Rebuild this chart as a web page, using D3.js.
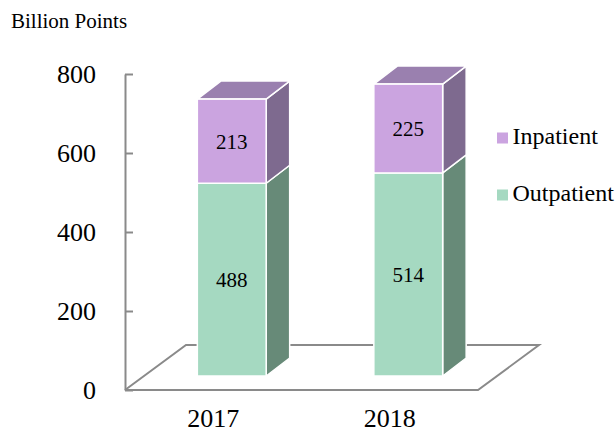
<!DOCTYPE html>
<html>
<head>
<meta charset="utf-8">
<script src="https://cdn.jsdelivr.net/npm/d3@7"></script>
<style>
  html, body { margin: 0; padding: 0; background: #fff; }
  svg { display: block; font-family: "Liberation Serif", "Times New Roman", serif; }
</style>
</head>
<body>
<svg id="chart" width="615" height="432"></svg>
<script>
// Chart data
const years = ["2017", "2018"];
const outpatient = [488, 514];
const inpatient = [213, 225];
const seriesNames = ["Inpatient", "Outpatient"];
const yTicks = [0, 200, 400, 600, 800];

// Colours for the three visible faces of each box
const faceColors = {
  Outpatient: { front: "#a5d9c1", side: "#678a78", top: "#7fa893" },
  Inpatient:  { front: "#cba4e0", side: "#7e6a8f", top: "#9a80af" }
};
const gridColor = "#8a8a8a";

const svg = d3.select("#chart");

// Scales
const y = d3.scaleLinear().domain([0, 800]).range([390, 74]);
const x = d3.scaleBand().domain(years).range([125, 478]).padding(0);

// Oblique projection: full floor depth and the box's own depth
const floorDepth = { dx: 61, dy: -45 };
const barOffset = { dx: 18.5, dy: -14 };   // where the box front sits inside the floor
const barDepth = { dx: 23.5, dy: -18 };
const barWidth = x.bandwidth() * 0.39;

// Floor parallelogram
const x0 = x.range()[0], x1 = x.range()[1], yb = y(0);
svg.append("path")
  .attr("d", d3.line()([
    [x0, yb], [x1, yb], [x1 + floorDepth.dx, yb + floorDepth.dy],
    [x0 + floorDepth.dx, yb + floorDepth.dy], [x0, yb]
  ]))
  .attr("fill", "none")
  .attr("stroke", gridColor)
  .attr("stroke-width", 2)
  .attr("stroke-linejoin", "miter");

// Y axis with inward ticks
const yAxis = svg.append("g")
  .attr("transform", `translate(${x0},0)`)
  .call(d3.axisLeft(y).tickValues(yTicks).tickSizeInner(-8).tickSizeOuter(0).tickPadding(29));
yAxis.attr("font-family", null).attr("font-size", null);
yAxis.select(".domain").attr("stroke", gridColor).attr("stroke-width", 2);
yAxis.selectAll(".tick line").attr("stroke", gridColor).attr("stroke-width", 2);
yAxis.selectAll(".tick text")
  .attr("fill", "#000")
  .style("font-family", "'Liberation Serif', 'Times New Roman', serif")
  .style("font-size", "26px");

// Stack the series
const rows = years.map((yr, i) => ({ year: yr, Outpatient: outpatient[i], Inpatient: inpatient[i] }));
const stack = d3.stack().keys(["Outpatient", "Inpatient"]);
const layers = stack(rows);

const bars = svg.append("g");
layers.forEach((layer, li) => {
  const key = layer.key;
  const col = faceColors[key];
  const isTop = li === layers.length - 1;
  layer.forEach(d => {
    const left = x(d.data.year) + x.bandwidth() / 2 - barWidth / 2 + barOffset.dx;
    const right = left + barWidth;
    const yTop = y(d[1]) + barOffset.dy;
    const yBot = y(d[0]) + barOffset.dy;
    const g = bars.append("g");
    // side face
    g.append("path")
      .attr("d", d3.line()([
        [right, yBot], [right + barDepth.dx, yBot + barDepth.dy],
        [right + barDepth.dx, yTop + barDepth.dy], [right, yTop]
      ]) + "Z")
      .attr("fill", col.side).attr("stroke", "#fff").attr("stroke-width", 1.5)
      .attr("stroke-linejoin", "round");
    // top face
    if (isTop) {
      g.append("path")
        .attr("d", d3.line()([
          [left, yTop], [right, yTop],
          [right + barDepth.dx, yTop + barDepth.dy], [left + barDepth.dx, yTop + barDepth.dy]
        ]) + "Z")
        .attr("fill", col.top).attr("stroke", "#fff").attr("stroke-width", 1.5)
        .attr("stroke-linejoin", "round");
    }
    // front face
    g.append("rect")
      .attr("x", left).attr("y", yTop)
      .attr("width", barWidth).attr("height", yBot - yTop)
      .attr("fill", col.front).attr("stroke", "#fff").attr("stroke-width", 1.5);
    // value label
    g.append("text")
      .attr("x", left + barWidth / 2)
      .attr("y", (yTop + yBot) / 2)
      .attr("dy", "0.35em")
      .attr("text-anchor", "middle")
      .style("font-size", "21px")
      .attr("fill", "#000")
      .text(d[1] - d[0]);
  });
});

// Category labels
svg.append("g").selectAll("text")
  .data(years)
  .join("text")
  .attr("x", d => x(d) + x.bandwidth() / 2)
  .attr("y", 427)
  .attr("text-anchor", "middle")
  .style("font-size", "26px")
  .text(d => d);

// Unit title
svg.append("text")
  .attr("x", 11)
  .attr("y", 28)
  .style("font-size", "21px")
  .text("Billion Points");

// Legend
const legend = svg.append("g");
seriesNames.forEach((name, i) => {
  const ly = 144 + i * 57;
  legend.append("rect")
    .attr("x", 497).attr("y", ly - 11.5)
    .attr("width", 11).attr("height", 11)
    .attr("fill", faceColors[name].front);
  legend.append("text")
    .attr("x", 512.5).attr("y", ly)
    .style("font-size", "24px")
    .text(name);
});
</script>
</body>
</html>
